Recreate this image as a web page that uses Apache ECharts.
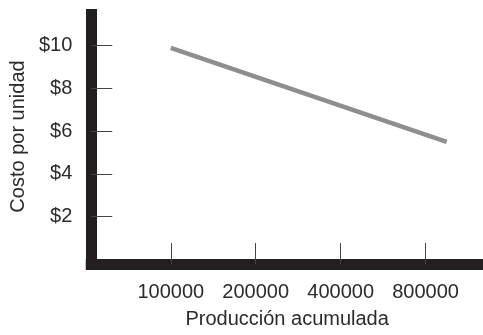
<!DOCTYPE html>
<html>
<head>
<meta charset="utf-8">
<script src="https://cdn.jsdelivr.net/npm/echarts@6/dist/echarts.min.js"></script>
<style>
  html, body { margin: 0; padding: 0; background: #fff; }
  #chart { width: 483px; height: 335px; }
</style>
</head>
<body>
<div id="chart"></div>
<script>
// Datos
const production = [100000, 950000];
const costPerUnit = [9.9, 5.5];
const xTickValues = [100000, 200000, 400000, 800000];
const yTickValues = [2, 4, 6, 8, 10];

// el eje x es logarítmico en base 2 (cada duplicación = mismo espacio)
const BASE = 100000;
const toLog = v => Math.log2(v / BASE);

const axisColor = '#231f20';
const textColor = '#2b2b2b';
const font = '"Liberation Sans", Arial, Helvetica, sans-serif';

const chart = echarts.init(document.getElementById('chart'));

chart.setOption({
    animation: false,
    backgroundColor: '#fff',
    grid: { left: 89, right: 0, top: 9, bottom: 71 },
    xAxis: {
        type: 'value',
        min: -0.936,
        max: 3.676,
        name: 'Producción acumulada',
        nameLocation: 'middle',
        nameGap: 45,
        nameTextStyle: { color: textColor, fontSize: 20, fontFamily: font },
        axisLine: { onZero: false, lineStyle: { color: axisColor, width: 11, cap: 'square' } },
        axisTick: {
            inside: true,
            length: 21,
            customValues: xTickValues.map(toLog),
            lineStyle: { color: '#444', width: 1 }
        },
        axisLabel: {
            margin: 18,
            customValues: xTickValues.map(toLog),
            formatter: v => String(Math.round(BASE * Math.pow(2, v))),
            color: textColor,
            fontSize: 20,
            fontFamily: font
        },
        splitLine: { show: false }
    },
    yAxis: {
        type: 'value',
        min: -0.213,
        max: 11.717,
        name: 'Costo por unidad',
        nameLocation: 'middle',
        nameGap: 60,
        nameTextStyle: { color: textColor, fontSize: 20, fontFamily: font },
        axisLine: { onZero: false, lineStyle: { color: axisColor, width: 11, cap: 'butt' } },
        axisTick: {
            inside: true,
            length: 21,
            customValues: yTickValues,
            lineStyle: { color: '#444', width: 1 }
        },
        axisLabel: {
            margin: 19,
            customValues: yTickValues,
            formatter: v => '$' + v,
            color: textColor,
            fontSize: 20,
            fontFamily: font
        },
        splitLine: { show: false }
    },
    series: [{
        type: 'line',
        data: production.map((p, i) => [toLog(p), costPerUnit[i]]),
        symbol: 'none',
        lineStyle: { color: '#8d8e91', width: 4.5, cap: 'butt' }
    }]
});
</script>
</body>
</html>
